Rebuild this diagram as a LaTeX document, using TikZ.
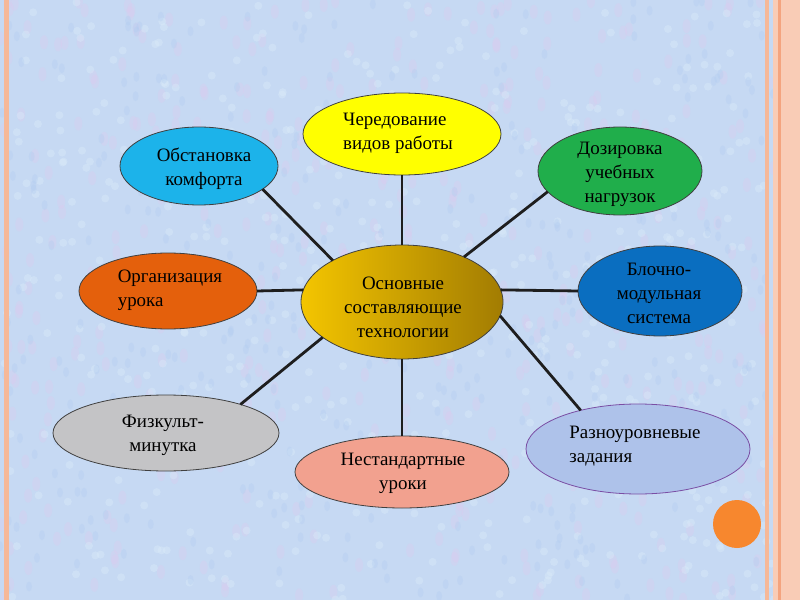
\documentclass[tikz,border=0pt]{standalone}
\usepackage{fontspec}
\setmainfont{Liberation Serif}
\usetikzlibrary{shapes.geometric}
\definecolor{bgc}{HTML}{C6D9F3}
\definecolor{texpink}{HTML}{DCCBEF}
\definecolor{texblue}{HTML}{AFCBF0}
\definecolor{texwhite}{HTML}{DDEEFA}
\definecolor{framepink}{HTML}{F6B898}
\definecolor{framelight}{HTML}{F9CCB6}
\definecolor{framedark}{HTML}{F4A47F}
\definecolor{cyellow}{HTML}{FFFF00}
\definecolor{ccyan}{HTML}{1CB3EA}
\definecolor{cgreen}{HTML}{20AE4B}
\definecolor{corange}{HTML}{E4600C}
\definecolor{cblue}{HTML}{0A6EC0}
\definecolor{cgray}{HTML}{C4C4C6}
\definecolor{csalmon}{HTML}{F2A18F}
\definecolor{clav}{HTML}{AEC2EA}
\definecolor{clavborder}{HTML}{7A4EA4}
\definecolor{cgoldL}{HTML}{F4C500}
\definecolor{cgoldR}{HTML}{A27C02}
\definecolor{cdot}{HTML}{F7872E}
\definecolor{linec}{HTML}{1E1E1E}
\tikzset{
  bubble/.style={ellipse, draw=black!75, line width=0.8bp, inner sep=0pt, outer sep=0pt},
  txt/.style={font=\fontsize{19}{24}\selectfont, inner sep=0pt, text=black},
  link/.style={draw=linec, line width=2.8bp},
}
\begin{document}
\begin{tikzpicture}[x=1bp,y=-1bp]
\fill[bgc] (0,0) rectangle (800,600);
\useasboundingbox (0,0) rectangle (800,600);
% texture
\pgfmathsetseed{11}
\foreach \i in {1,...,500}{
  \pgfmathsetmacro\xx{rnd*800}
  \pgfmathsetmacro\yy{rnd*600}
  \fill[texpink, opacity=0.35] (\xx,\yy) ellipse (4 and 7);
}
\foreach \i in {1,...,500}{
  \pgfmathsetmacro\xx{rnd*800}
  \pgfmathsetmacro\yy{rnd*600}
  \fill[texwhite, opacity=0.35] (\xx,\yy) ellipse (4 and 4);
}
\foreach \i in {1,...,400}{
  \pgfmathsetmacro\xx{rnd*800}
  \pgfmathsetmacro\yy{rnd*600}
  \fill[texblue, opacity=0.3] (\xx,\yy) ellipse (3 and 5);
}
% frame
\fill[framepink] (4,0) rectangle (9,600);
\fill[framepink] (765,0) rectangle (769,600);
\fill[framelight] (773,0) rectangle (800,600);
\fill[framedark] (778,0) rectangle (781,600);
% ellipses
\node[bubble, fill=cyellow, minimum width=198bp, minimum height=82bp] (cher) at (402,134) {};
\node[bubble, fill=ccyan, minimum width=158bp, minimum height=78bp] (obst) at (199,166) {};
\node[bubble, fill=cgreen, minimum width=164bp, minimum height=88bp] (doz) at (620,171) {};
\node[bubble, fill=corange, minimum width=178bp, minimum height=76bp] (org) at (168,291) {};
\node[bubble, left color=cgoldL, right color=cgoldR, minimum width=202bp, minimum height=114bp] (core) at (402,302) {};
\node[bubble, fill=cblue, minimum width=164bp, minimum height=90bp] (blok) at (660,291) {};
\node[bubble, fill=cgray, minimum width=226bp, minimum height=76bp] (fiz) at (166,433) {};
\node[bubble, fill=csalmon, minimum width=214bp, minimum height=72bp] (nest) at (402,472) {};
\node[bubble, fill=clav, draw=clavborder, minimum width=224bp, minimum height=90bp] (raz) at (638,449) {};
\node[circle, fill=cdot, minimum size=48bp, inner sep=0pt] (dot) at (737,524) {};
% connectors
\draw[link] (cher.south) -- (core.north);
\draw[link] (obst.-20) -- (core.149);
\draw[link] (doz.196) -- (core.36);
\draw[link] (org.east) -- (core.173);
\draw[link] (core.7) -- (blok.west);
\draw[link] (core.-8) -- (raz.146);
\draw[link] (core.204) -- (fiz.21);
\draw[link] (core.south) -- (nest.north);
% texts
\node[txt, align=left] (tcher) at (398,133) {Чередование\\видов работы};
\node[txt, align=center] (tobst) at (204,169) {Обстановка\\комфорта};
\node[txt, align=center] (tdoz) at (620,174) {Дозировка\\учебных\\нагрузок};
\node[txt, align=left] (torg) at (170,290) {Организация\\урока};
\node[txt, align=center] (tcore) at (403,307) {Основные\\составляющие\\технологии};
\node[txt, align=center] (tblok) at (659,293) {Блочно-\\модульная\\система};
\node[txt, align=center] (tfiz) at (163,435) {Физкульт-\\минутка};
\node[txt, align=center] (tnest) at (403,473) {Нестандартные\\уроки};
\node[txt, align=left] (traz) at (635,446) {Разноуровневые\\задания};
\end{tikzpicture}
\end{document}
